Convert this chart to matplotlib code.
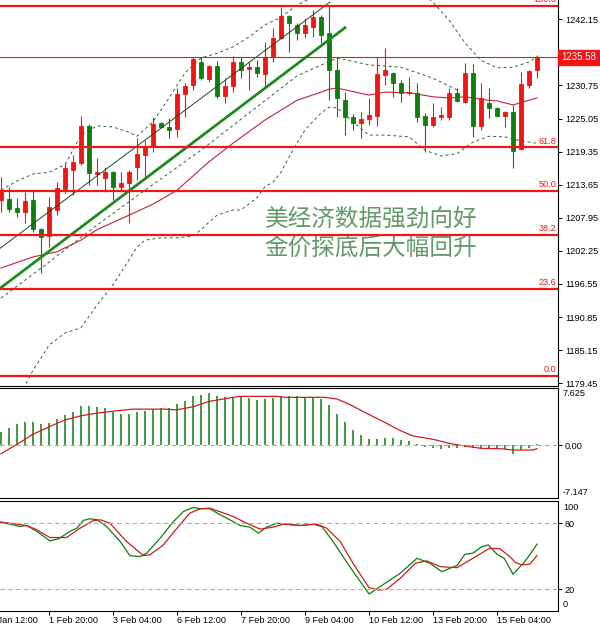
import matplotlib.pyplot as plt
import matplotlib.transforms as mtransforms
import numpy as np

plt.rcParams['font.family'] = ['Liberation Sans', 'DejaVu Sans']

# gold H4 candles, 31 Jan - 16 Feb
opens = [1211.0, 1211.2, 1209.6, 1209.0, 1211.0, 1206.0, 1204.8, 1209.3, 1212.9, 1216.2,
         1217.4, 1223.8, 1215.5, 1214.8, 1215.8, 1213.3, 1213.9, 1216.7, 1218.8, 1220.1,
         1224.3, 1223.6, 1223.2, 1229.3, 1230.8, 1234.8, 1231.9, 1234.1, 1228.9, 1230.7,
         1234.8, 1233.6, 1233.9, 1232.7, 1235.7, 1238.9, 1242.7, 1241.2, 1239.8, 1240.8,
         1242.5, 1239.8, 1233.4, 1228.2, 1225.3, 1224.3, 1225.0, 1225.5, 1232.6, 1232.9,
         1231.2, 1229.5, 1229.5, 1225.5, 1223.9, 1225.3, 1225.3, 1229.5, 1227.9, 1232.9,
         1223.8, 1227.7, 1226.9, 1225.5, 1226.2, 1219.8, 1230.8, 1233.4]
highs = [1215.0, 1213.3, 1211.4, 1212.4, 1212.7, 1206.2, 1211.5, 1214.1, 1217.4, 1218.8,
         1225.5, 1224.1, 1218.3, 1216.7, 1216.0, 1215.8, 1216.2, 1221.7, 1221.4, 1225.3,
         1224.5, 1225.1, 1230.3, 1231.2, 1235.7, 1235.7, 1234.3, 1235.0, 1232.0, 1235.8,
         1235.7, 1234.8, 1235.1, 1238.2, 1240.7, 1244.3, 1242.9, 1241.5, 1242.4, 1243.8,
         1242.9, 1244.5, 1235.7, 1229.6, 1225.8, 1226.2, 1228.6, 1235.7, 1237.2, 1233.0,
         1231.7, 1232.2, 1231.2, 1226.0, 1227.7, 1227.0, 1230.3, 1230.3, 1234.6, 1234.4,
         1231.2, 1230.3, 1227.0, 1226.3, 1227.4, 1233.1, 1233.4, 1236.0]
lows = [1209.0, 1209.0, 1208.1, 1207.1, 1205.5, 1198.4, 1202.9, 1208.4, 1212.2, 1211.9,
        1217.0, 1213.6, 1213.6, 1212.4, 1211.0, 1212.4, 1207.1, 1214.5, 1214.8, 1219.3,
        1223.4, 1221.7, 1221.9, 1225.3, 1230.0, 1231.7, 1231.4, 1228.6, 1227.7, 1229.6,
        1232.0, 1230.0, 1232.2, 1230.5, 1234.8, 1238.8, 1236.5, 1238.6, 1238.9, 1239.1,
        1238.1, 1228.2, 1225.3, 1222.2, 1223.1, 1221.7, 1223.9, 1223.8, 1230.8, 1228.8,
        1227.9, 1229.1, 1224.5, 1219.3, 1223.6, 1224.8, 1224.8, 1227.9, 1227.7, 1221.9,
        1223.1, 1225.1, 1225.3, 1223.6, 1216.5, 1219.6, 1230.3, 1232.0]
closes = [1212.7, 1209.5, 1209.0, 1210.8, 1206.0, 1204.6, 1209.8, 1213.1, 1216.5, 1217.6,
          1223.8, 1215.7, 1215.8, 1215.8, 1213.3, 1213.9, 1215.8, 1218.9, 1220.1, 1224.1,
          1223.6, 1223.1, 1229.3, 1230.7, 1235.3, 1232.0, 1234.1, 1228.9, 1230.7, 1234.8,
          1233.4, 1233.9, 1232.9, 1235.7, 1238.9, 1242.7, 1241.5, 1239.8, 1241.2, 1242.5,
          1239.4, 1233.4, 1228.6, 1225.3, 1224.3, 1225.0, 1225.7, 1232.7, 1233.4, 1231.2,
          1229.5, 1229.6, 1225.3, 1223.9, 1225.3, 1225.7, 1229.5, 1228.1, 1232.9, 1223.8,
          1228.6, 1226.9, 1225.5, 1226.2, 1219.5, 1231.0, 1233.2, 1235.58]
last_price = 1235.58

# bands (bar index, price)
ma_idx = [0, 4, 7, 10, 12, 16, 19, 22, 26, 29, 33, 37, 40, 41, 42, 46, 48, 51, 54, 56, 58, 61, 62, 64, 66, 67]
ma_val = [1199.3, 1201.2, 1202.1, 1204.1, 1205.9, 1208.4, 1210.3, 1212.7, 1217.6, 1220.8, 1224.8, 1228.2,
          1229.6, 1230.1, 1230.3, 1229.1, 1229.6, 1229.5, 1228.8, 1228.6, 1228.8, 1228.2, 1228.1, 1227.4,
          1228.2, 1228.6]
up_idx = [0, 2, 4, 6, 8, 10, 12, 14, 16, 17, 19, 21, 23, 25, 27, 29, 31, 33, 35, 37, 39, 41, 45, 49,
          52, 54, 56, 58, 60, 62, 64, 66, 67]
up_val = [1212.7, 1214.3, 1215.5, 1215.8, 1217.1, 1222.2, 1223.8, 1223.6, 1222.7, 1222.0, 1224.5, 1228.6,
          1232.9, 1235.5, 1236.3, 1237.4, 1239.1, 1241.2, 1242.5, 1244.6, 1246.0, 1247.2, 1248.6, 1248.9,
          1247.2, 1245.1, 1242.0, 1238.1, 1235.1, 1233.8, 1233.9, 1234.8, 1235.7]
lo_idx = [0, 2, 3, 4, 5, 6, 8, 10, 12, 14, 16, 17, 18, 20, 22, 24, 25, 26, 27, 29, 30, 32, 33, 34, 35,
          36, 37, 38, 40, 41, 42, 44, 46, 48, 51, 53, 55, 57, 59, 61, 63, 65, 67]
lo_val = [1171.4, 1176.6, 1179.0, 1181.7, 1183.8, 1186.0, 1188.1, 1189.0, 1192.9, 1196.4, 1200.7, 1202.9,
          1204.1, 1204.5, 1204.5, 1204.8, 1205.9, 1207.2, 1208.4, 1209.3, 1209.3, 1211.4, 1213.3, 1214.1,
          1215.8, 1218.4, 1220.8, 1223.1, 1226.0, 1227.0, 1226.9, 1224.5, 1222.2, 1222.2, 1221.9, 1219.6,
          1218.6, 1219.0, 1221.0, 1222.0, 1221.9, 1221.2, 1220.8]
mid_up_idx = [0, 6, 12, 18, 25, 31, 37, 42, 46, 50, 54, 57]
mid_up_val = [1194.1, 1200.3, 1206.7, 1212.7, 1219.6, 1226.0, 1232.4, 1235.5, 1234.3, 1233.9, 1232.0, 1230.0]

trend_x = [-0.5, 43]
trend_y = [1195.4, 1240.7]
chan_x = [-0.5, 41.1]
chan_y = [1202.3, 1245.1]

fib_low = 1180.70
fib_high = 1244.49
fib_levels = [0.0, 23.6, 38.2, 50.0, 61.8, 100.0]

macd_hist = [1.81, 2.35, 2.81, 3.17, 3.17, 2.9, 3.03, 3.48, 4.03, 4.39, 5.2, 5.2, 5.07, 4.93, 4.52, 4.25,
             4.25, 4.48, 4.62, 4.84, 4.93, 4.93, 5.52, 5.97, 6.56, 6.74, 7.01, 6.56, 6.43, 6.43, 6.56, 6.29,
             6.11, 6.2, 6.33, 6.56, 6.56, 6.56, 6.43, 6.43, 6.2, 5.38, 4.25, 3.12, 1.99, 1.31, 0.77, 0.77,
             0.9, 0.9, 0.68, 0.54, 0.1, -0.27, -0.45, -0.59, -0.45, -0.36, -0.27, -0.36, -0.45, -0.45,
             -0.45, -0.59, -1.18, -0.72, -0.45, 0.15]
sig_idx = [0, 2, 4, 6, 8, 10, 12, 14.5, 16.5, 20.5, 22, 24, 26, 29, 30, 34.5, 35.5, 37.5, 40.5, 42,
           43.5, 45.5, 48, 50, 51.5, 54, 56, 58, 60, 62.5, 64, 66.5, 67]
sig_val = [-1.18, 0.09, 1.45, 2.44, 3.39, 3.94, 4.3, 4.62, 4.84, 4.84, 4.75, 5.16, 5.88, 6.43, 6.56, 6.56,
           6.43, 6.43, 6.43, 6.2, 5.52, 4.39, 3.03, 1.9, 1.22, 0.77, 0.23, -0.14, -0.45, -0.5, -0.68,
           -0.68, -0.5]
macd_max, macd_min = 7.625, -7.147

k_idx = [-0.1, 1.1, 2.4, 3.2, 4.5, 6.1, 7.2, 8.6, 9.5, 10.3, 11.1, 12.0, 13.2, 14.9, 16.1, 17.4, 18.2,
         19.9, 21.5, 22.8, 24.0, 24.9, 26.1, 27.4, 28.6, 29.9, 31.1, 32.2, 33.2, 34.5, 35.7, 37.4, 39.0,
         40.1, 41.5, 43.6, 46.0, 47.4, 49.9, 52.0, 53.6, 55.1, 57.0, 58.0, 59.0, 60.1, 60.9, 62.0, 62.9,
         64.0, 65.3, 66.1, 67.0]
k_val = [80.9, 79.0, 76.9, 77.8, 72.4, 63.9, 65.7, 72.4, 75.4, 82.4, 83.9, 83.0, 76.9, 63.3, 50.5, 49.6,
         52.7, 66.3, 80.9, 90.5, 94.2, 93.0, 93.0, 87.5, 83.0, 77.8, 76.3, 70.9, 76.3, 79.9, 79.0, 77.8,
         79.0, 76.9, 63.3, 40.5, 15.7, 22.4, 34.5, 48.1, 43.6, 36.0, 41.5, 51.8, 52.7, 58.7, 60.2, 51.8,
         48.1, 33.6, 43.6, 51.2, 60.9]
d_idx = [-0.1, 1.1, 3.2, 4.5, 6.1, 8.2, 9.9, 11.5, 12.4, 13.6, 15.7, 17.8, 18.6, 20.3, 22.0, 23.6, 24.9,
         26.1, 29.0, 30.7, 32.4, 34.0, 35.3, 37.4, 39.5, 40.7, 42.4, 44.0, 46.0, 47.2, 48.2, 49.9, 51.8,
         53.2, 54.9, 57.0, 59.0, 61.1, 62.4, 63.6, 64.3, 65.1, 66.1, 67.0]
d_val = [80.9, 79.9, 77.8, 73.9, 66.9, 66.9, 75.4, 82.1, 83.0, 79.9, 63.3, 50.5, 51.2, 60.2, 75.4, 89.0,
         93.0, 93.6, 86.0, 79.9, 74.5, 76.3, 79.0, 77.8, 79.0, 75.4, 63.3, 43.6, 21.5, 19.3, 19.9, 29.9,
         43.6, 45.7, 40.5, 39.6, 48.1, 57.2, 56.6, 49.6, 44.2, 42.1, 42.7, 50.5]

price_ticks = [1242.15, 1236.45, 1230.75, 1225.05, 1219.35, 1213.65, 1207.95, 1202.25,
               1196.55, 1190.85, 1185.15, 1179.45]
date_pos = [-2, 6, 14, 22, 30, 38, 46, 54, 62]
date_labels = ['31 Jan 12:00', '1 Feb 20:00', '3 Feb 04:00', '6 Feb 12:00', '7 Feb 20:00',
               '9 Feb 04:00', '10 Feb 12:00', '13 Feb 20:00', '15 Feb 04:00']

RED = '#f01616'
GREEN = '#0f7d0f'
FS = 6.6

fig = plt.figure(figsize=(6, 6.28), dpi=100)
ax = fig.add_axes([0, 0.3854, 0.93, 0.6146])
ax_m = fig.add_axes([0, 0.2070, 0.93, 0.1744])
ax_s = fig.add_axes([0, 0.0266, 0.93, 0.1756])

xlim = (-0.125, 69.625)
for a in (ax, ax_m, ax_s):
    a.set_xlim(*xlim)
    a.spines['left'].set_visible(False)
    a.set_xticks([])
    a.yaxis.tick_right()
    a.tick_params(axis='y', direction='out', length=3, pad=2, labelsize=FS, width=0.7)
ax.spines['top'].set_visible(False)

# ---- main price panel
idx = np.arange(len(opens))
o = np.array(opens); c = np.array(closes)
cols = [RED if cc >= oo else GREEN for oo, cc in zip(o, c)]
ax.vlines(idx, lows, highs, colors=cols, lw=0.8, zorder=3)
ax.bar(idx, np.abs(c - o), bottom=np.minimum(o, c), width=0.62, color=cols,
       edgecolor=cols, linewidth=0.6, zorder=3)

ax.plot(ma_idx, ma_val, color='#c8203a', lw=0.8, zorder=2)
for bx, by in ((up_idx, up_val), (lo_idx, lo_val), (mid_up_idx, mid_up_val)):
    ax.plot(bx, by, color='#2a6a2a', lw=0.7, ls=(0, (3, 3)), zorder=2)
ax.plot(trend_x, trend_y, color='#1f8a1f', lw=2.0, zorder=4)
ax.plot(chan_x, chan_y, color='#1d4a1d', lw=0.7, zorder=4)

blend = mtransforms.blended_transform_factory(ax.transAxes, ax.transData)
for lvl in fib_levels:
    price = fib_low + (fib_high - fib_low) * lvl / 100
    ax.axhline(price, color=RED, lw=1.6, zorder=4)
    ax.text(0.997, price + 0.25, f'{lvl:.1f}', transform=blend, ha='right', va='bottom',
            color=RED, fontsize=FS, zorder=5)
ax.axhline(last_price, color=RED, lw=0.8, zorder=4)

ax.set_ylim(1178.97, 1245.48)
ax.set_yticks(price_ticks)
ax.set_yticklabels([f'{p:.2f}' for p in price_ticks])
ax.text(1.0 + 3 / 558, last_price, '1235.58', transform=blend, ha='left', va='center',
        color='white', fontsize=FS + 0.4, zorder=10, clip_on=False,
        bbox=dict(boxstyle='square,pad=0.28', fc=RED, ec=RED))

cjk = ['Noto Sans CJK SC', 'DejaVu Sans']
ax.text(0.474, 0.432, '美经济数据强劲向好', transform=ax.transAxes, fontsize=17,
        color='#62996a', family=cjk, va='center', ha='left', fontweight='light')
ax.text(0.474, 0.357, '金价探底后大幅回升', transform=ax.transAxes, fontsize=17,
        color='#62996a', family=cjk, va='center', ha='left', fontweight='light')

# ---- MACD panel
ax_m.vlines(idx, 0, macd_hist, colors=GREEN, lw=1.1)
ax_m.plot(sig_idx, sig_val, color='#d01c1c', lw=0.9)
ax_m.axhline(0, color='#aaaaaa', lw=0.8, ls=(0, (4, 3)))
ax_m.set_ylim(macd_min, macd_max)
ax_m.set_yticks([0])
ax_m.set_yticklabels(['0.00'])
off = mtransforms.offset_copy(ax_m.transAxes, fig=fig, x=5, y=-1, units='dots')
ax_m.text(1.0, 1.0, f'{macd_max:.3f}', transform=off, ha='left', va='top', fontsize=FS)
off = mtransforms.offset_copy(ax_m.transAxes, fig=fig, x=5, y=1, units='dots')
ax_m.text(1.0, 0.0, f'{macd_min:.3f}', transform=off, ha='left', va='bottom', fontsize=FS)

# ---- stochastic panel
ax_s.plot(k_idx, k_val, color=GREEN, lw=0.9)
ax_s.plot(d_idx, d_val, color='#d01c1c', lw=0.9)
for lv in (20, 80):
    ax_s.axhline(lv, color='#aaaaaa', lw=0.8, ls=(0, (4, 3)))
ax_s.set_ylim(0, 100)
ax_s.set_yticks([20, 80])
ax_s.set_yticklabels(['20', '80'])
off = mtransforms.offset_copy(ax_s.transAxes, fig=fig, x=5, y=-2, units='dots')
ax_s.text(1.0, 1.0, '100', transform=off, ha='left', va='top', fontsize=FS)
off = mtransforms.offset_copy(ax_s.transAxes, fig=fig, x=5, y=2, units='dots')
ax_s.text(1.0, 0.0, '0', transform=off, ha='left', va='bottom', fontsize=FS)

ax_s.set_xticks([p for p in date_pos if xlim[0] <= p <= xlim[1]])
ax_s.set_xticklabels([])
ax_s.tick_params(axis='x', direction='out', length=3, width=0.7)
dblend = mtransforms.blended_transform_factory(ax_s.transData, ax_s.transAxes)
doff = mtransforms.offset_copy(dblend, fig=fig, x=0, y=-5, units='dots')
for p, lab in zip(date_pos, date_labels):
    ax_s.text(p, 0, lab, transform=doff, ha='left', va='top', fontsize=FS, clip_on=False)

fig.savefig('out.png', dpi=100)
